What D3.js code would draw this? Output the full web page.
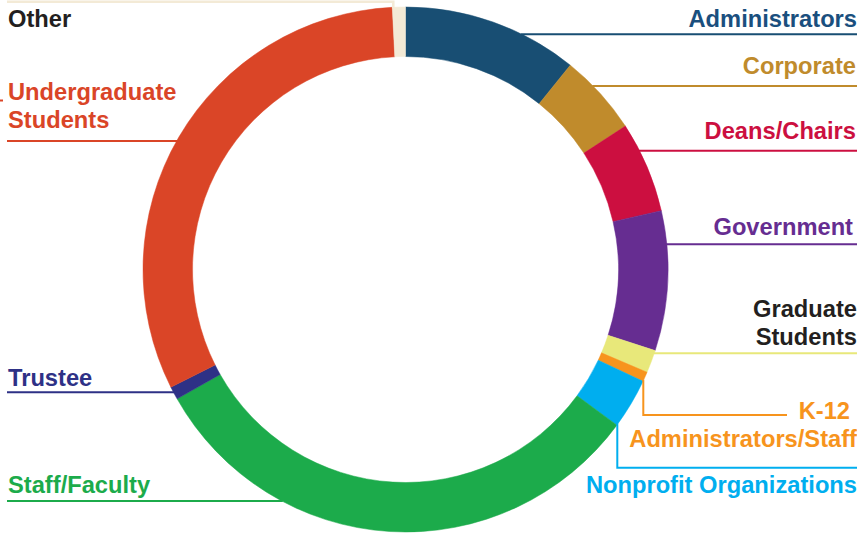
<!DOCTYPE html>
<html lang="en">
<head>
<meta charset="UTF-8">
<script src="https://d3js.org/d3.v7.min.js"></script>
<style>
    body { margin: 0; background: #fff; }
    svg text { font-family: "Liberation Sans", Arial, sans-serif; font-weight: bold; font-size: 23.7px; }
</style>
</head>
<body>
<div id="donut"></div>
<script>
// ---- data ----
var categories = ["Administrators", "Corporate", "Deans/Chairs", "Government", "Graduate Students",
                  "K-12 Administrators/Staff", "Nonprofit Organizations", "Staff/Faculty", "Trustee",
                  "Undergraduate Students", "Other"];
var shares = [10.8, 5.0, 5.6, 8.6, 1.4, 0.6, 3.1, 31.7, 0.8, 31.6, 0.8];
var labelLines = [["Administrators"], ["Corporate"], ["Deans/Chairs"], ["Government"], ["Graduate", "Students"],
                  ["K-12", "Administrators/Staff"], ["Nonprofit Organizations"], ["Staff/Faculty"], ["Trustee"],
                  ["Undergraduate", "Students"], ["Other"]];

// ---- styles / layout ----
var colors = ["#184e73", "#c08b2c", "#cc0f40", "#662d91", "#e8e87a", "#f7941d", "#00aeef",
              "#1cab4b", "#2e3186", "#da4527", "#f3ead6"];
var textColors = ["#1a4f7e", "#c08b2c", "#cc0f40", "#662d91", "#231f20", "#f7941d", "#00aeef",
                  "#1cab4b", "#2e3186", "#da4527", "#231f20"];

var W = 857, H = 533;
var cx = 405.5, cy = 269.5, R = 262.5, r = 213;

// side, leader y, label baseline, text end x (right) / start x (left)
var layout = {
    "Administrators":            {side: "right", ly: 34.3, base: 26.7, tx: 857},
    "Corporate":                 {side: "right", ly: 86,   base: 74,   tx: 856},
    "Deans/Chairs":              {side: "right", ly: 150.7, base: 139.3, tx: 856},
    "Government":                {side: "right", ly: 244.3, base: 235, tx: 853},
    "Graduate Students":         {side: "right", ly: 353.3, base: 316.7, tx: 857},
    "K-12 Administrators/Staff": {side: "elbow", vx: 643.3, ly: 415, lx2: 787, base: 419.3, tx: [850, 857]},
    "Nonprofit Organizations":   {side: "elbow", vx: 617.3, ly: 467.7, lx2: 857, base: 493.3, tx: 857},
    "Staff/Faculty":             {side: "left", ly: 501, base: 493.3, tx: 8},
    "Trustee":                   {side: "left", ly: 392.3, base: 386, tx: 8},
    "Undergraduate Students":    {side: "left", ly: 141, base: 100, tx: 8},
    "Other":                     {side: "top", vx: 393.3, ly: 1.8, base: 26.7, tx: 8}
};

var svg = d3.select("#donut").append("svg")
    .attr("width", W).attr("height", H);

var data = categories.map(function(c, i) { return {name: c, value: shares[i], i: i}; });

var pie = d3.pie().sort(null).value(function(d) { return d.value; });
var arc = d3.arc().innerRadius(r).outerRadius(R);

svg.append("g")
    .attr("transform", "translate(" + cx + "," + cy + ")")
    .selectAll("path")
    .data(pie(data))
    .enter().append("path")
    .attr("d", arc)
    .attr("fill", function(d) { return colors[d.data.i]; })
    .attr("stroke", function(d) { return colors[d.data.i]; })
    .attr("stroke-width", 0.5);

// leader lines + labels
var lab = svg.append("g");

function xOnRing(y, side) {
    var dy = y - cy;
    var dx = Math.sqrt(Math.max(0, R * R - dy * dy));
    return side == "left" ? cx - dx : cx + dx;
}
function yOnRing(x, upper) {
    var dx = x - cx;
    var dy = Math.sqrt(Math.max(0, R * R - dx * dx));
    return upper ? cy - dy : cy + dy;
}

data.forEach(function(d) {
    var L = layout[d.name], col = colors[d.i], tcol = textColors[d.i];
    var pts;
    if (L.side == "right") {
        pts = [[xOnRing(L.ly, "right") - 1, L.ly], [W, L.ly]];
    } else if (L.side == "left") {
        pts = [[7, L.ly], [xOnRing(L.ly, "left") + 1, L.ly]];
    } else if (L.side == "elbow") {
        pts = [[L.vx, yOnRing(L.vx, false) - 1], [L.vx, L.ly], [L.lx2, L.ly]];
    } else {
        pts = [[7, L.ly], [L.vx, L.ly], [L.vx, yOnRing(L.vx, true) + 1]];
    }
    lab.append("path")
        .attr("d", d3.line()(pts))
        .attr("fill", "none")
        .attr("stroke", col)
        .attr("stroke-width", d.name == "Other" ? 2.5 : 2);

    var lines = labelLines[d.i];
    lines.forEach(function(t, k) {
        var tx = Array.isArray(L.tx) ? L.tx[k] : L.tx;
        lab.append("text")
            .attr("x", tx)
            .attr("y", L.base + k * 28)
            .attr("text-anchor", L.side == "left" || L.side == "top" ? "start" : "end")
            .attr("fill", tcol)
            .text(t);
    });
});

// small stray tick at the left edge next to the undergraduate label
lab.append("line")
    .attr("x1", 0).attr("x2", 3).attr("y1", 100.5).attr("y2", 100.5)
    .attr("stroke", colors[9]).attr("stroke-width", 2);
</script>
</body>
</html>
